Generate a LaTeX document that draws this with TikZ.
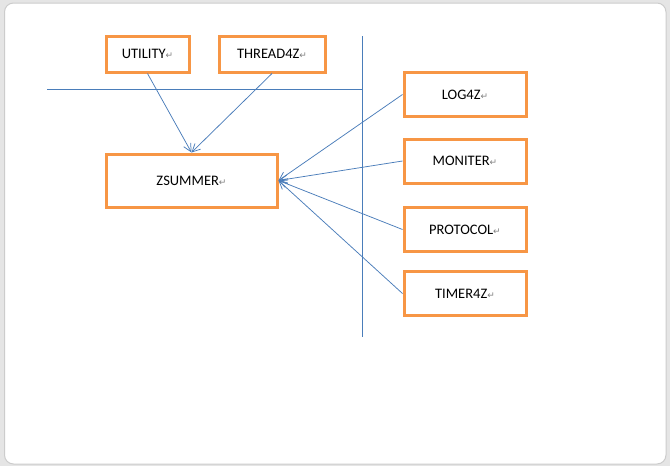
\documentclass[tikz,border=0pt]{standalone}
\usepackage{fontspec}
\setmainfont{Carlito}
\newfontfamily\symfont{DejaVu Sans}
\usetikzlibrary{arrows.meta}

\definecolor{boxorange}{rgb}{0.97, 0.59, 0.27}
\definecolor{linkblue}{rgb}{0.29, 0.49, 0.73}
\definecolor{framegray}{rgb}{0.80, 0.80, 0.80}

\newcommand{\retmark}{{\symfont\color{gray}\fontsize{9}{9}\selectfont ↵}}

\tikzset{
	modbox/.style={draw=boxorange, line width=3pt, fill=white, inner sep=0pt, font=\fontsize{14.5}{16}\selectfont},
	link/.style={draw=linkblue, line width=0.75pt, -{Straight Barb[length=8pt,width=8pt]}},
	guide/.style={draw=linkblue, line width=0.75pt}
}

\begin{document}
\begin{tikzpicture}[x=1pt,y=1pt,yscale=-1,xscale=1]
		% page frame
		\fill[framegray!50] (0,0) rectangle (670,466);
		\draw[framegray, line width=1pt, fill=white, rounded corners=9pt] (4.5,3) rectangle (666,464);
		\useasboundingbox (0,0) rectangle (670,466);

		% top modules
		\node[modbox, minimum width=83pt, minimum height=36pt] (utility) at (147.5,54) {UTILITY\retmark};
		\node[modbox, minimum width=106pt, minimum height=36pt] (thread) at (272,54) {THREAD4Z\retmark};

		% core module
		\node[modbox, minimum width=171pt, minimum height=53pt] (zsummer) at (191.5,180.5) {ZSUMMER\retmark};

		% right side modules
		\node[modbox, minimum width=122pt, minimum height=44pt] (log) at (465,94.5) {LOG4Z\retmark};
		\node[modbox, minimum width=122pt, minimum height=44pt] (moniter) at (465,161) {MONITER\retmark};
		\node[modbox, minimum width=122pt, minimum height=44pt] (protocol) at (465,229.5) {PROTOCOL\retmark};
		\node[modbox, minimum width=122pt, minimum height=44pt] (timer) at (465,293.5) {TIMER4Z\retmark};

		% guide lines
		\coordinate (hleft) at (47,89);
		\coordinate (hright) at (362,89);
		\coordinate (vtop) at (362,36);
		\coordinate (vbot) at (362,337);
		\draw[guide] (hleft) -- (hright);
		\draw[guide] (vtop) -- (vbot);

		% dependencies
		\draw[link] (utility.south) -- (zsummer.north);
		\draw[link] (thread.south) -- (zsummer.north);
		\draw[link] (log.west) -- (zsummer.east);
		\draw[link] (moniter.west) -- (zsummer.east);
		\draw[link] (protocol.west) -- (zsummer.east);
		\draw[link] (timer.west) -- (zsummer.east);
	\end{tikzpicture}
\end{document}
